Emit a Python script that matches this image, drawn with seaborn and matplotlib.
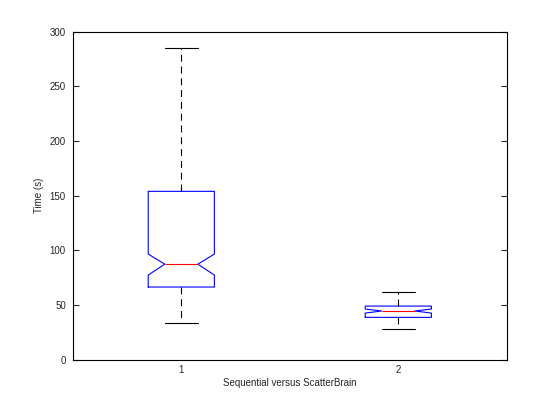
import numpy as np
import seaborn as sns
import matplotlib
matplotlib.use("Agg")
import matplotlib.pyplot as plt

# five-number summaries (seconds)
labels = ["1", "2"]
whislo = [33.7, 28.0]
q1 = [66.6, 38.9]
med = [87.5, 44.7]
q3 = [154.0, 49.2]
whishi = [284.5, 62.3]
cilo = [77.5, 42.8]
cihi = [96.7, 46.5]

sns.set_style("white")
plt.rcParams['font.family'] = ['Liberation Sans', 'DejaVu Sans']
plt.rcParams['lines.scale_dashes'] = False

stats = []
for i in range(len(labels)):
    stats.append(dict(label=labels[i], whislo=whislo[i], q1=q1[i], med=med[i],
                      q3=q3[i], whishi=whishi[i], cilo=cilo[i], cihi=cihi[i],
                      fliers=[]))

fig = plt.figure(figsize=(5.6, 4.2), dpi=100)
ax = fig.add_axes([0.13, 0.143, 0.775, 0.782])

ax.bxp(stats, positions=[1, 2], widths=0.305, capwidths=0.153, shownotches=True,
       showfliers=False, patch_artist=False,
       boxprops=dict(color='blue', linewidth=0.8),
       medianprops=dict(color='red', linewidth=0.8),
       whiskerprops=dict(color='black', linewidth=0.8, linestyle=(0, (5, 3.5))),
       capprops=dict(color='black', linewidth=0.8))

ax.set_xlim(0.5, 2.5)
ax.set_ylim(0, 300)
ax.set_yticks(np.arange(0, 301, 50))
ax.set_xticks([1, 2])
ax.set_xticklabels(labels)
ax.tick_params(axis='y', direction='in', length=4, width=0.8, labelsize=7,
               right=True, left=True, pad=5)
ax.tick_params(axis='x', length=0, labelsize=7, pad=4)
for s in ax.spines.values():
    s.set_color('black')
    s.set_linewidth(0.8)
    s.set_visible(True)

ax.set_xlabel('Sequential versus ScatterBrain', fontsize=7, labelpad=2)
ax.set_ylabel('Time (s)', fontsize=7, labelpad=4)

fig.savefig('out.png', dpi=100, facecolor='white')
